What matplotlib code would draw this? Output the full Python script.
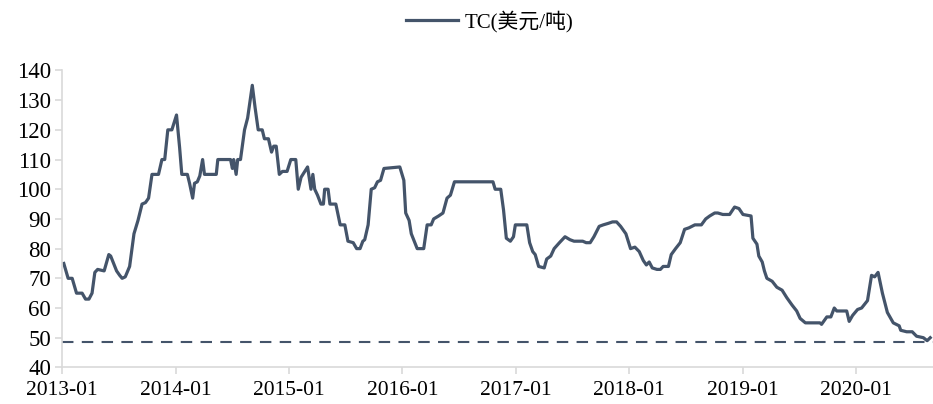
import matplotlib
matplotlib.use("Agg")
import matplotlib.pyplot as plt
import pandas as pd

dates = [
    "2013-01-06", "2013-01-20", "2013-02-02", "2013-02-16", "2013-03-06", "2013-03-17", "2013-03-28",
    "2013-04-07", "2013-04-16", "2013-04-25", "2013-05-16", "2013-05-31", "2013-06-06", "2013-06-25",
    "2013-07-05", "2013-07-13", "2013-07-23", "2013-08-06", "2013-08-20", "2013-09-02", "2013-09-15",
    "2013-09-26", "2013-10-06", "2013-10-17", "2013-11-07", "2013-11-18", "2013-11-27", "2013-12-07",
    "2013-12-20", "2014-01-04", "2014-01-14", "2014-01-21", "2014-02-08", "2014-02-15", "2014-02-25",
    "2014-03-03", "2014-03-12", "2014-03-20", "2014-03-29", "2014-04-04", "2014-05-12", "2014-05-17",
    "2014-06-27", "2014-07-03", "2014-07-07", "2014-07-15", "2014-07-20", "2014-07-29", "2014-08-11",
    "2014-08-21", "2014-09-05", "2014-09-14", "2014-09-24", "2014-10-07", "2014-10-14", "2014-10-27",
    "2014-11-06", "2014-11-13", "2014-11-21", "2014-12-01", "2014-12-11", "2014-12-26", "2015-01-07",
    "2015-01-23", "2015-01-31", "2015-02-09", "2015-03-02", "2015-03-13", "2015-03-19", "2015-03-25",
    "2015-04-03", "2015-04-14", "2015-04-22", "2015-04-26", "2015-05-07", "2015-05-13", "2015-06-01",
    "2015-06-15", "2015-06-30", "2015-07-10", "2015-07-27", "2015-08-07", "2015-08-18", "2015-08-27",
    "2015-09-02", "2015-09-13", "2015-09-23", "2015-10-04", "2015-10-13", "2015-10-23", "2015-11-03",
    "2015-12-24", "2016-01-06", "2016-01-12", "2016-01-23", "2016-01-30", "2016-02-18", "2016-03-10",
    "2016-03-21", "2016-04-03", "2016-04-11", "2016-04-27", "2016-05-11", "2016-05-24", "2016-06-04",
    "2016-06-17", "2016-10-19", "2016-10-26", "2016-11-13", "2016-11-22", "2016-12-01", "2016-12-14",
    "2016-12-24", "2016-12-30", "2017-02-05", "2017-02-14", "2017-02-24", "2017-03-04", "2017-03-15",
    "2017-04-02", "2017-04-10", "2017-04-23", "2017-05-04", "2017-05-21", "2017-06-08", "2017-06-24",
    "2017-07-07", "2017-08-04", "2017-08-15", "2017-08-28", "2017-09-09", "2017-09-26", "2017-10-09",
    "2017-10-25", "2017-11-08", "2017-11-21", "2017-12-04", "2017-12-21", "2018-01-05", "2018-01-19",
    "2018-02-02", "2018-02-15", "2018-02-25", "2018-03-06", "2018-03-16", "2018-03-31", "2018-04-11",
    "2018-04-20", "2018-05-07", "2018-05-16", "2018-05-30", "2018-06-14", "2018-06-28", "2018-07-12",
    "2018-07-31", "2018-08-21", "2018-09-04", "2018-09-17", "2018-10-03", "2018-10-13", "2018-10-29",
    "2018-11-20", "2018-12-06", "2018-12-20", "2019-01-02", "2019-01-28", "2019-02-03", "2019-02-16",
    "2019-02-22", "2019-03-05", "2019-03-12", "2019-03-20", "2019-04-06", "2019-04-21", "2019-05-08",
    "2019-05-23", "2019-06-09", "2019-06-24", "2019-07-05", "2019-07-22", "2019-09-07", "2019-09-12",
    "2019-09-29", "2019-10-12", "2019-10-23", "2019-10-31", "2019-12-02", "2019-12-10", "2019-12-21",
    "2020-01-06", "2020-01-19", "2020-02-07", "2020-02-20", "2020-03-01", "2020-03-12", "2020-03-26",
    "2020-04-11", "2020-04-30", "2020-05-19", "2020-05-24", "2020-06-12", "2020-06-30", "2020-07-14",
    "2020-08-05", "2020-08-17", "2020-08-27",
]
tc_values = [
    75, 70, 70, 65, 65, 63, 63,
    65, 72, 73, 72.5, 78, 77.5, 72.5,
    71, 70, 70.5, 74, 85, 89.5, 95,
    95.5, 97, 105, 105, 110, 110, 120,
    120, 125, 114, 105, 105, 102, 97,
    102, 102.5, 104.5, 110, 105, 105, 110,
    110, 107, 110, 105, 110, 110, 120,
    124, 135, 127.5, 120, 120, 117, 117,
    112.5, 114.5, 114.5, 105, 106, 106, 110,
    110, 100, 104, 107.5, 100, 105, 100,
    98, 95, 95, 100, 100, 95, 95,
    88, 88, 82.5, 82, 80, 80, 82.5,
    83, 88, 100, 100.5, 102.5, 103, 107,
    107.5, 103, 92, 89.5, 85, 80, 80,
    88, 88, 90, 91, 92, 97, 98,
    102.5, 102.5, 100, 100, 93, 83.5, 82.5,
    84, 88, 88, 82, 79, 78, 74,
    73.5, 76.5, 77.5, 80, 82, 84, 83,
    82.5, 82.5, 82, 82, 84, 87.5, 88,
    88.5, 89, 89, 87.5, 85, 80, 80.5,
    79, 76, 74.5, 75.5, 73.5, 73, 73,
    74, 74, 78, 80, 82, 86.5, 87,
    88, 88, 90, 91, 92, 92, 91.5,
    91.5, 94, 93.5, 91.5, 91, 83.5, 81.5,
    77.5, 75.5, 72.5, 70, 69, 67, 66,
    63.5, 61, 59, 56.5, 55, 55, 54.5,
    57, 57, 60, 59, 59, 55.5, 57.5,
    59.5, 60, 62.5, 71, 70.5, 72, 65,
    58.5, 55, 54, 52.5, 52, 52, 50.5,
    50, 49, 50,
]
threshold = 48.5
x_ticks = ["2013-01", "2014-01", "2015-01", "2016-01", "2017-01", "2018-01", "2019-01", "2020-01"]
y_ticks = [40, 50, 60, 70, 80, 90, 100, 110, 120, 130, 140]
series_label = "TC(美元/吨)"

plt.rcParams['font.family'] = ['Liberation Serif', 'Noto Sans CJK SC']

color = "#44546A"
spine_c = "#D9D9D9"

fig = plt.figure(figsize=(9.33, 4.04), dpi=100)
ax = fig.add_axes([0.0667, 0.0906, 0.933, 0.735])

d = pd.to_datetime(dates)
ax.plot(d, tc_values, color=color, lw=2.3, solid_joinstyle="round", label=series_label)
ax.axhline(threshold, color=color, lw=1.5, linestyle=(0, (5.5, 4)))

ax.set_ylim(40, 140)
ax.set_yticks(y_ticks)
ax.set_xlim(pd.Timestamp("2013-01-01"), pd.Timestamp("2020-09-04"))
ax.set_xticks(pd.to_datetime([t + "-01" for t in x_ticks]))
ax.set_xticklabels(x_ticks)

for s in ["top", "right"]:
    ax.spines[s].set_visible(False)
for s in ["left", "bottom"]:
    ax.spines[s].set_color(spine_c)
    ax.spines[s].set_linewidth(1.2)
ax.tick_params(axis="both", colors=spine_c, width=1.2, length=5, labelcolor="black")
ax.tick_params(axis="y", labelsize=16.5, pad=3)
ax.tick_params(axis="x", labelsize=15.5, pad=5)

fig.legend(handles=ax.get_lines()[:1], labels=[series_label], loc="center",
           bbox_to_anchor=(0.525, 0.946), frameon=False, fontsize=15,
           handlelength=2.5, handletextpad=0.3)

fig.savefig("out.png", dpi=100)
